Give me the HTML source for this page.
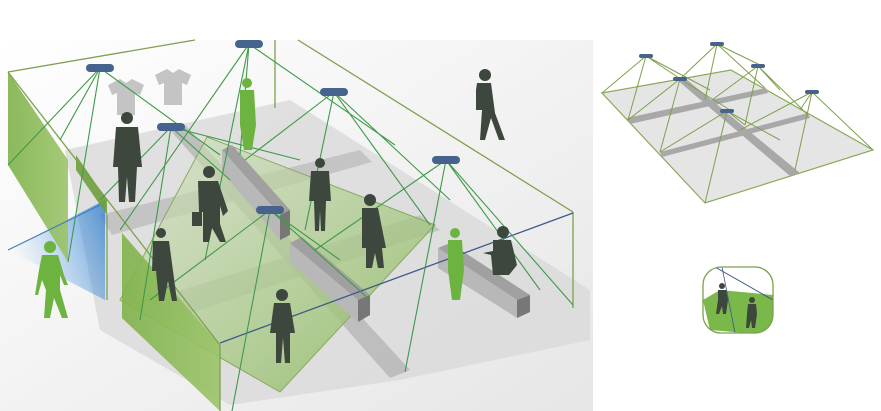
<!DOCTYPE html>
<html><head><style>html,body{margin:0;padding:0;background:#fff;width:881px;height:411px;overflow:hidden}</style></head>
<body>
<svg width="881" height="411" viewBox="0 0 881 411" xmlns="http://www.w3.org/2000/svg">
<defs>
<linearGradient id="bg" x1="0" y1="0" x2="1" y2="1">
<stop offset="0" stop-color="#ffffff"/><stop offset="1" stop-color="#e6e6e6"/></linearGradient>
<linearGradient id="gw" x1="0" y1="0" x2="1" y2="0">
<stop offset="0" stop-color="#7fb24a"/><stop offset="1" stop-color="#9cc46a"/></linearGradient>
<linearGradient id="gf" x1="0" y1="0" x2="1" y2="1">
<stop offset="0" stop-color="#d4e2c2" stop-opacity=".6"/><stop offset="1" stop-color="#8ab85a" stop-opacity=".85"/></linearGradient>
<linearGradient id="bl" x1="1" y1="0" x2="0" y2="0.4">
<stop offset="0" stop-color="#2f7fcf"/><stop offset="1" stop-color="#6aaae8" stop-opacity="0"/></linearGradient>
<g id="cam"><rect x="-14" y="-4" width="28" height="8" rx="4" fill="#45638d"/></g>
<g id="mcam"><rect x="-7" y="-2" width="14" height="4" rx="2" fill="#45638d"/></g>
</defs>
<rect x="0" y="40" width="593" height="371" fill="url(#bg)"/>
<!-- floor -->
<polygon points="65,150 290,100 590,290 590,340 400,380 230,405 100,330" fill="#dadada" opacity=".8"/>
<polygon points="100,215 360,150 372,162 112,235" fill="#bdbdbd" opacity=".8"/>
<polygon points="150,300 420,215 440,230 170,320" fill="#bdbdbd" opacity=".8"/>
<polygon points="170,130 185,125 410,370 390,378" fill="#b5b5b5" opacity=".8"/>
<polygon points="207,137 435,225 280,392 120,300" fill="url(#gf)"/>
<polygon points="207,137 435,225 280,392 120,300" fill="none" stroke="#8aaa60" stroke-width="1"/>
<!-- shirts -->
<path d="M108,85 l12,-6 l6,4 l6,-4 l12,6 l-4,10 l-5,-2 l0,22 l-18,0 l0,-22 l-5,2z" fill="#c4c4c4"/>
<path d="M155,75 l12,-6 l6,4 l6,-4 l12,6 l-4,10 l-5,-2 l0,22 l-18,0 l0,-22 l-5,2z" fill="#c4c4c4"/>
<!-- counters -->
<polygon points="222,150 232,145 290,210 280,215" fill="#a0a0a0"/>
<polygon points="222,150 280,215 280,240 222,172" fill="#b8b8b8"/>
<polygon points="280,215 290,210 290,235 280,240" fill="#777"/>
<polygon points="290,243 302,237 370,295 358,300" fill="#a0a0a0"/>
<polygon points="290,243 358,300 358,322 290,262" fill="#b8b8b8"/>
<polygon points="358,300 370,295 370,315 358,322" fill="#777"/>
<polygon points="438,248 450,243 530,295 517,300" fill="#a0a0a0"/>
<polygon points="438,248 517,300 517,318 438,268" fill="#b8b8b8"/>
<polygon points="517,300 530,295 530,312 517,318" fill="#777"/>
<!-- blue light -->
<polygon points="105,200 8,250 105,300" fill="url(#bl)" opacity=".8"/>
<!-- left wall -->
<polygon points="8,72 68,160 68,262 8,165" fill="url(#gw)" opacity=".9"/>
<polygon points="76,155 107,200 107,215 76,170" fill="#6e9e3c" opacity=".9"/>
<polygon points="122,233 220,345 220,411 122,318" fill="url(#gw)" opacity=".9"/>
<!-- box edges -->
<g fill="none" stroke="#7ea04c" stroke-width="1.3">
<line x1="8" y1="72" x2="195" y2="40"/>
<line x1="298" y1="40" x2="573" y2="212"/>
<line x1="275" y1="40" x2="275" y2="108"/>
<line x1="573" y1="212" x2="573" y2="308"/>
<line x1="8" y1="72" x2="220" y2="345"/>
<line x1="220" y1="345" x2="220" y2="411"/>
<line x1="107" y1="215" x2="107" y2="300"/>
</g>
<line x1="220" y1="343" x2="573" y2="213" stroke="#3e5a88" stroke-width="1.3"/>
<line x1="8" y1="250" x2="100" y2="205" stroke="#3e7abf" stroke-width="1"/>
<!-- camera lines -->
<g stroke="#3f9a4a" stroke-width="1.1" fill="none">
<path d="M100,68 L8,165 M100,68 L60,140 M100,68 L220,155 M100,68 L68,262"/>
<path d="M249,44 L120,230 M249,44 L205,260 M249,44 L395,145 M249,44 L240,155"/>
<path d="M334,92 L245,160 M334,92 L305,230 M334,92 L450,200 M334,92 L430,225"/>
<path d="M171,127 L100,200 M171,127 L140,320 M171,127 L230,180 M171,127 L300,160"/>
<path d="M446,160 L315,250 M446,160 L405,372 M446,160 L573,305 M446,160 L540,290"/>
<path d="M270,210 L150,300 M270,210 L232,411 M270,210 L370,300 M270,210 L340,260"/>
</g>
<!-- cameras -->
<use href="#cam" x="100" y="68"/><use href="#cam" x="249" y="44"/><use href="#cam" x="334" y="92"/>
<use href="#cam" x="171" y="127"/><use href="#cam" x="446" y="160"/><use href="#cam" x="270" y="210"/>
<!-- people -->
<g fill="#3d473d">
<circle cx="127" cy="118" r="6"/><path d="M116,127 h22 l4,40 h-5 l-2,35 h-6 l-2,-25 l-2,25 h-6 l-1,-35 h-5z"/>
<circle cx="209" cy="172" r="6"/><path d="M198,181 h20 l10,30 l-5,5 l-3,-10 l0,18 l6,18 h-6 l-8,-14 l-3,14 h-6 l0,-30 l-4,0z"/><rect x="192" y="212" width="10" height="14"/>
<circle cx="320" cy="163" r="5"/><path d="M311,171 h18 l2,30 h-5 l-1,30 h-4 l-1,-20 l-1,20 h-4 l-1,-30 h-5z"/>
<circle cx="370" cy="200" r="6"/><path d="M362,208 h16 l8,40 h-4 l2,20 h-6 l-3,-15 l-3,15 h-6 l0,-20 h-4z"/>
<circle cx="161" cy="233" r="5"/><path d="M153,241 h16 l4,30 l4,30 h-5 l-4,-20 l-4,20 h-5 l-3,-30 h-4z"/>
<circle cx="282" cy="295" r="6"/><path d="M274,303 h16 l5,30 h-5 l0,30 h-5 l-2,-25 l-2,25 h-5 l0,-30 h-6z"/>
<circle cx="485" cy="75" r="6"/><path d="M477,83 h14 l4,30 l10,27 h-6 l-8,-22 l-6,22 h-5 l2,-30 h-6 l0,-20z"/>
<circle cx="503" cy="232" r="6"/><path d="M493,240 h18 l6,25 l-8,10 h-16 l-2,-20 l-8,-2 l10,-2z"/>
</g>
<g fill="#6db33f">
<circle cx="247" cy="83" r="5"/><path d="M240,90 h14 l2,35 l-4,25 h-8 l-4,-25z"/>
<circle cx="455" cy="233" r="5"/><path d="M448,240 h14 l2,30 l-4,30 h-8 l-4,-30z"/>
<circle cx="50" cy="247" r="6"/><path d="M42,255 h16 l6,20 l4,10 l-4,0 l-4,-10 l0,15 l8,28 h-6 l-8,-20 l-4,20 h-6 l2,-28 l-4,-10 l-4,15 h-3 l4,-25z"/>
</g>
<!-- right mini -->
<polygon points="602,93 731,70 873,150 705,203" fill="#e5e5e5" stroke="#8aaa55" stroke-width="1.2"/>
<polygon points="627,118 766,88 768,93 630,124" fill="#a8a8a8"/>
<polygon points="660,152 808,113 810,118 662,157" fill="#a8a8a8"/>
<polygon points="676,79 686,79 800,173 790,176" fill="#a8a8a8"/>
<g stroke="#7ea04c" stroke-width="1" fill="none">
<path d="M646,56 L602,93 M646,56 L628,120 M646,56 L682,80 M646,56 L710,90"/>
<path d="M717,44 L680,79 M717,44 L705,100 M717,44 L765,88 M717,44 L760,65"/>
<path d="M758,66 L712,100 M758,66 L745,125 M758,66 L808,115 M758,66 L780,90"/>
<path d="M812,92 L740,130 M812,92 L795,170 M812,92 L873,150 M812,92 L800,110"/>
<path d="M680,79 L628,120 M680,79 L660,152 M680,79 L730,110"/>
<path d="M727,111 L660,152 M727,111 L705,203 M727,111 L745,125 M727,111 L780,140"/>
</g>
<use href="#mcam" x="646" y="56"/><use href="#mcam" x="717" y="44"/><use href="#mcam" x="758" y="66"/>
<use href="#mcam" x="812" y="92"/><use href="#mcam" x="680" y="79"/><use href="#mcam" x="727" y="111"/>
<!-- icon -->
<clipPath id="ic"><rect x="703" y="267" width="70" height="66" rx="18"/></clipPath>
<g clip-path="url(#ic)">
<rect x="703" y="267" width="70" height="66" fill="#fff"/>
<polygon points="703,300 720,290 773,295 773,333 745,333 710,330" fill="#7ab84a"/>
<line x1="715" y1="267" x2="773" y2="300" stroke="#3e5a88"/>
<line x1="722" y1="267" x2="735" y2="333" stroke="#3e5a88" stroke-width=".8"/>
<circle cx="722" cy="286" r="3" fill="#3d473d"/><path d="M718,290 h8 l2,10 l-2,14 h-3 l-1,-8 l-3,8 h-3 l2,-14z" fill="#3d473d"/>
<circle cx="752" cy="300" r="3" fill="#3d473d"/><path d="M748,304 h8 l1,10 l-2,14 h-3 l-1,-8 l-2,8 h-3 l1,-14z" fill="#3d473d"/>
</g>
<rect x="703" y="267" width="70" height="66" rx="18" fill="none" stroke="#7ea04c" stroke-width="1.3"/>
</svg>
</body></html>
